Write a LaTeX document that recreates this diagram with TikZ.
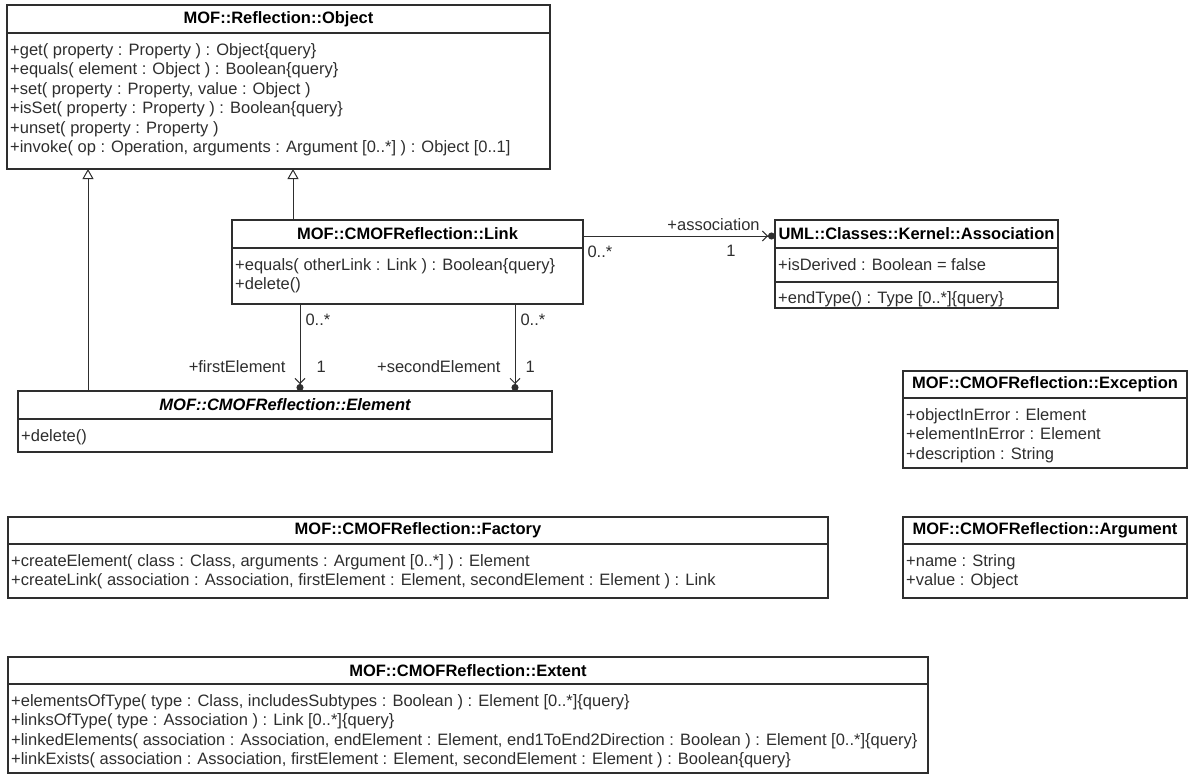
\documentclass[tikz,border=0pt]{standalone}
\usepackage{fontspec}
\setmainfont{Liberation Sans}
\usepackage{xcolor}
\usetikzlibrary{arrows.meta,positioning}
\definecolor{umlink}{gray}{0.18}
\newcommand{\umlfont}{\fontsize{16.5pt}{19.5pt}\selectfont}
\tikzset{
	uml/.style={draw=umlink, line width=1.2pt, outer sep=0pt, inner sep=0pt},
	uml head/.style={uml, minimum height=#1, font=\umlfont\bfseries},
	uml part/.style={uml, minimum height=#1},
	wide/.style={minimum width=#1},
	members/.style={align=left, inner sep=0pt, text=umlink, font=\umlfont,
		below right=10pt and 3pt of #1},
	gen/.style={draw=umlink, line width=1pt, -{Triangle[open,length=10pt,width=11pt]}},
	nav/.style={draw=umlink, line width=1pt,
		-{Straight Barb[length=5pt,width=10pt]Circle[length=7pt]}},
	mult/.style={font=\umlfont, text=umlink, inner sep=0pt}
}
\begin{document}
\begin{tikzpicture}[x=1pt,y=-1pt]
	\useasboundingbox (0,0) rectangle (1190,776);
	% reflection object
	\node[uml head=28pt, wide=543pt, anchor=north west] (ObjHead) at (7,5) {MOF::Reflection::Object};
	\node[uml part=136pt, wide=543pt, below=0pt of ObjHead] (ObjOps) {};
	\node[members=ObjOps.north west] (ObjOpsTxt) {+get( property : Property ) : Object\{query\}\\
		+equals( element : Object ) : Boolean\{query\}\\
		+set( property : Property, value : Object )\\
		+isSet( property : Property ) : Boolean\{query\}\\
		+unset( property : Property )\\
		+invoke( op : Operation, arguments : Argument [0..*] ) : Object [0..1]};
	% link
	\node[uml head=28pt, wide=351pt, anchor=north west] (LinkHead) at (232,220) {MOF::CMOFReflection::Link};
	\node[uml part=56pt, wide=351pt, below=0pt of LinkHead] (LinkOps) {};
	\node[members=LinkOps.north west] (LinkOpsTxt) {+equals( otherLink : Link ) : Boolean\{query\}\\
		+delete()};
	% association
	\node[uml head=28pt, wide=283pt, anchor=north west] (AssocHead) at (775,220) {UML::Classes::Kernel::Association};
	\node[uml part=34pt, wide=283pt, below=0pt of AssocHead] (AssocAttr) {};
	\node[uml part=26pt, wide=283pt, below=0pt of AssocAttr] (AssocOps) {};
	\node[members=AssocAttr.north west] (AssocAttrTxt) {+isDerived : Boolean = false};
	\node[members=AssocOps.north west, below right=9pt and 3pt of AssocOps.north west] (AssocOpsTxt) {+endType() : Type [0..*]\{query\}};
	% element
	\node[uml head=28pt, wide=534pt, anchor=north west, font=\umlfont\bfseries\itshape] (ElemHead) at (18,391) {MOF::CMOFReflection::Element};
	\node[uml part=33pt, wide=534pt, below=0pt of ElemHead] (ElemOps) {};
	\node[members=ElemOps.north west] (ElemOpsTxt) {+delete()};
	% exception
	\node[uml head=27pt, wide=284pt, anchor=north west] (ExcHead) at (903,371) {MOF::CMOFReflection::Exception};
	\node[uml part=70pt, wide=284pt, below=0pt of ExcHead] (ExcAttr) {};
	\node[members=ExcAttr.north west] (ExcAttrTxt) {+objectInError : Element\\
		+elementInError : Element\\
		+description : String};
	% factory
	\node[uml head=27pt, wide=820pt, anchor=north west] (FacHead) at (8,517) {MOF::CMOFReflection::Factory};
	\node[uml part=54pt, wide=820pt, below=0pt of FacHead] (FacOps) {};
	\node[members=FacOps.north west] (FacOpsTxt) {+createElement( class : Class, arguments : Argument [0..*] ) : Element\\
		+createLink( association : Association, firstElement : Element, secondElement : Element ) : Link};
	% argument
	\node[uml head=27pt, wide=284pt, anchor=north west] (ArgHead) at (903,517) {MOF::CMOFReflection::Argument};
	\node[uml part=54pt, wide=284pt, below=0pt of ArgHead] (ArgAttr) {};
	\node[members=ArgAttr.north west] (ArgAttrTxt) {+name : String\\
		+value : Object};
	% extent
	\node[uml head=27pt, wide=920pt, anchor=north west] (ExtHead) at (8,657) {MOF::CMOFReflection::Extent};
	\node[uml part=89pt, wide=920pt, below=0pt of ExtHead] (ExtOps) {};
	\node[members=ExtOps.north west] (ExtOpsTxt) {+elementsOfType( type : Class, includesSubtypes : Boolean ) : Element [0..*]\{query\}\\
		+linksOfType( type : Association ) : Link [0..*]\{query\}\\
		+linkedElements( association : Association, endElement : Element, end1ToEnd2Direction : Boolean ) : Element [0..*]\{query\}\\
		+linkExists( association : Association, firstElement : Element, secondElement : Element ) : Boolean\{query\}};
	% generalizations
	\coordinate (ElemUp) at ([xshift=70pt]ElemHead.north west);
	\coordinate (LinkUp) at ([xshift=61pt]LinkHead.north west);
	\draw[gen] (ElemUp) -- (ElemUp |- ObjOps.south);
	\draw[gen] (LinkUp) -- (LinkUp |- ObjOps.south);
	% associations
	\coordinate (LinkOut) at ([yshift=-2pt]LinkHead.east);
	\draw[nav] (LinkOut) -- (LinkOut -| AssocHead.west)
		node[mult, pos=0, anchor=north west, xshift=4pt, yshift=-9pt] (AssocFrom) {0..*}
		node[mult, pos=.68, anchor=south, yshift=5pt] (AssocRole) {+association}
		node[mult, pos=.77, anchor=north, yshift=-9pt] (AssocTo) {1};
	\coordinate (FirstOut) at ([xshift=68pt]LinkOps.south west);
	\coordinate (SecondOut) at ([xshift=283pt]LinkOps.south west);
	\draw[nav] (FirstOut) -- (FirstOut |- ElemHead.north)
		node[mult, pos=.18, anchor=west, xshift=5pt] (FirstFrom) {0..*}
		node[mult, pos=.72, anchor=east, xshift=-14pt] (FirstRole) {+firstElement}
		node[mult, pos=.72, anchor=west, xshift=16pt] (FirstTo) {1};
	\draw[nav] (SecondOut) -- (SecondOut |- ElemHead.north)
		node[mult, pos=.18, anchor=west, xshift=5pt] (SecondFrom) {0..*}
		node[mult, pos=.72, anchor=east, xshift=-14pt] (SecondRole) {+secondElement}
		node[mult, pos=.72, anchor=west, xshift=10pt] (SecondTo) {1};
\end{tikzpicture}
\end{document}
